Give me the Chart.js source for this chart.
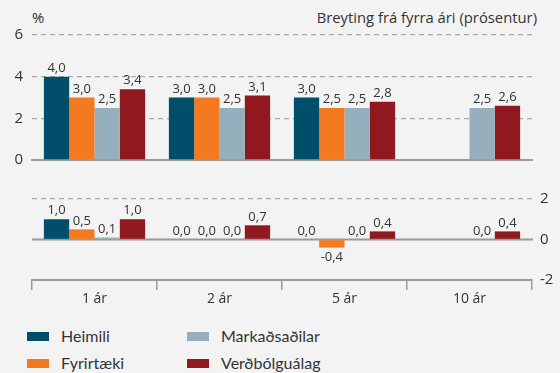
<!DOCTYPE html>
<html>
<head>
<meta charset="utf-8">
<script src="https://cdn.jsdelivr.net/npm/chart.js@4.4.1/dist/chart.umd.min.js"></script>
<style>
  body{ margin:0; background:#f3f3f3; font-family:"Open Sans",sans-serif; color:#333; }
  #wrap{ position:relative; width:560px; height:373px; overflow:hidden; }
  .pane{ position:absolute; left:0; width:560px; }
  .note{ position:absolute; font-size:14.8px; color:#333; white-space:nowrap; }
  .leg{ position:absolute; font-family:Lato,sans-serif; font-size:16px; color:#333; white-space:nowrap; }
  .leg i{ display:inline-block; width:22px; height:9px; margin-right:12px; vertical-align:1px; }
</style>
</head>
<body>
<div id="wrap">
  <div class="note" style="left:32px;top:7px;">%</div>
  <div class="note" style="right:23px;top:7px;">Breyting frá fyrra ári (prósentur)</div>
  <div class="pane" style="top:0;height:178px;"><canvas id="levels" width="560" height="178"></canvas></div>
  <div class="pane" style="top:180px;height:125px;"><canvas id="changes" width="560" height="125"></canvas></div>
  <div class="leg" style="left:27px;top:326px;"><i style="background:#004e6a"></i>Heimili</div>
  <div class="leg" style="left:27px;top:353px;"><i style="background:#f47a22"></i>Fyrirtæki</div>
  <div class="leg" style="left:187px;top:326px;"><i style="background:#95afbd"></i>Markaðsaðilar</div>
  <div class="leg" style="left:187px;top:353px;"><i style="background:#8f191e"></i>Verðbólguálag</div>
</div>
<script>
// Verðbólguvæntingar eftir tímalengd
const categories = ['1 ár', '2 ár', '5 ár', '10 ár'];
const seriesNames = ['Heimili', 'Fyrirtæki', 'Markaðsaðilar', 'Verðbólguálag'];
const seriesColors = ['#004e6a', '#f47a22', '#95afbd', '#8f191e'];

// væntingar (%)
const heimili = [4.0, 3.0, 3.0, null];
const fyrirtaeki = [3.0, 3.0, 2.5, null];
const markadsadilar = [2.5, 2.5, 2.5, 2.5];
const verdbolgualag = [3.4, 3.1, 2.8, 2.6];

// breyting frá fyrra ári (prósentur)
const heimiliBreyting = [1.0, 0.0, 0.0, null];
const fyrirtaekiBreyting = [0.5, 0.0, -0.4, null];
const markadsadilarBreyting = [0.1, 0.0, 0.0, 0.0];
const verdbolgualagBreyting = [1.0, 0.7, 0.4, 0.4];

const levelTicks = [0, 2, 4, 6];
const changeTicks = [-2, 0, 2];

const GRID = '#a9a9a9';
const AXIS = '#9a9a9a';
const FONT = '"Open Sans", sans-serif';

function makeSets(rows){
  return rows.map((data, i) => ({
    label: seriesNames[i],
    data: data,
    backgroundColor: seriesColors[i],
    borderWidth: 0,
    categoryPercentage: 0.81,
    barPercentage: 1
  }));
}

// value labels above (or under) each bar
const valueLabels = {
  id: 'valueLabels',
  afterDatasetsDraw(chart){
    const ctx = chart.ctx;
    ctx.save();
    ctx.font = '13px ' + FONT;
    ctx.fillStyle = '#333';
    ctx.textAlign = 'center';
    chart.data.datasets.forEach((ds, di) => {
      chart.getDatasetMeta(di).data.forEach((bar, i) => {
        const v = ds.data[i];
        if (v === null) return;
        const txt = v.toFixed(1).replace('.', ',');
        if (v < 0) { ctx.textBaseline = 'top'; ctx.fillText(txt, bar.x, bar.y + 3); }
        else { ctx.textBaseline = 'bottom'; ctx.fillText(txt, bar.x, bar.y - 2); }
      });
    });
    ctx.restore();
  }
};

// solid line through zero on the change panel
const zeroLine = {
  id: 'zeroLine',
  beforeDatasetsDraw(chart){
    const y = chart.scales.y.getPixelForValue(0);
    const a = chart.chartArea;
    const ctx = chart.ctx;
    ctx.save();
    ctx.strokeStyle = AXIS;
    ctx.lineWidth = 2;
    ctx.beginPath(); ctx.moveTo(a.left, y); ctx.lineTo(a.right + 1, y); ctx.stroke();
    ctx.restore();
  }
};

const dashedGrid = (keep) => ({
  drawTicks: false,
  color: c => keep.includes(c.tick.value) ? GRID : 'rgba(0,0,0,0)',
  lineWidth: 1.3
});

new Chart(document.getElementById('levels'), {
  type: 'bar',
  data: {
    labels: categories,
    datasets: makeSets([heimili, fyrirtaeki, markadsadilar, verdbolgualag])
  },
  options: {
    responsive: false,
    animation: false,
    layout: { padding: { top: 35, right: 28, bottom: 3, left: 0 } },
    plugins: { legend: { display: false }, tooltip: { enabled: false } },
    scales: {
      x: {
        ticks: { display: false },
        grid: { display: false },
        border: { display: true, color: AXIS, width: 2 },
        afterFit: s => { s.height = 0; }
      },
      y: {
        min: 0, max: 6,
        afterBuildTicks: s => { s.ticks = levelTicks.map(v => ({ value: v })); },
        afterFit: s => { s.width = 32; },
        ticks: { font: { family: FONT, size: 15 }, color: '#333', padding: 9 },
        grid: dashedGrid([2, 4, 6]),
        border: { display: false, dash: [5, 4] }
      }
    }
  },
  plugins: [valueLabels]
});

new Chart(document.getElementById('changes'), {
  type: 'bar',
  data: {
    labels: categories,
    datasets: makeSets([heimiliBreyting, fyrirtaekiBreyting, markadsadilarBreyting, verdbolgualagBreyting])
  },
  options: {
    responsive: false,
    animation: false,
    layout: { padding: { top: 19, right: 0, bottom: 0, left: 32 } },
    plugins: { legend: { display: false }, tooltip: { enabled: false } },
    scales: {
      x: {
        ticks: { font: { family: FONT, size: 14 }, color: '#333', padding: 1 },
        grid: { drawOnChartArea: false, drawTicks: true, tickLength: 10, color: AXIS, lineWidth: 1.5, offset: true },
        border: { display: true, color: AXIS, width: 2 },
        afterFit: s => { s.height = 25; }
      },
      y: {
        position: 'right',
        min: -2, max: 2,
        afterBuildTicks: s => { s.ticks = changeTicks.map(v => ({ value: v })); },
        afterFit: s => { s.width = 28; },
        ticks: { font: { family: FONT, size: 15 }, color: '#333', padding: 8 },
        grid: dashedGrid([2]),
        border: { display: false, dash: [5, 4] }
      }
    }
  },
  plugins: [zeroLine, valueLabels]
});
</script>
</body>
</html>
